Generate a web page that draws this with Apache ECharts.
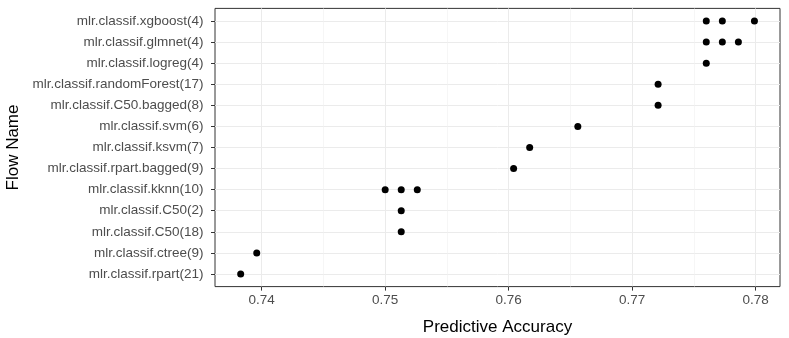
<!DOCTYPE html>
<html>
<head>
<meta charset="utf-8">
<script src="https://cdn.jsdelivr.net/npm/echarts@6/dist/echarts.min.js"></script>
<style>
html,body{margin:0;padding:0;background:#fff;}
#chart{width:789px;height:338px;}
</style>
</head>
<body>
<div id="chart"></div>
<script>
// Categories (top to bottom)
const flows = [
  'mlr.classif.xgboost(4)',
  'mlr.classif.glmnet(4)',
  'mlr.classif.logreg(4)',
  'mlr.classif.randomForest(17)',
  'mlr.classif.C50.bagged(8)',
  'mlr.classif.svm(6)',
  'mlr.classif.ksvm(7)',
  'mlr.classif.rpart.bagged(9)',
  'mlr.classif.kknn(10)',
  'mlr.classif.C50(2)',
  'mlr.classif.C50(18)',
  'mlr.classif.ctree(9)',
  'mlr.classif.rpart(21)'
];
// Predictive accuracy values per flow (same order)
const xgboost = [0.7760, 0.7773, 0.7799];
const glmnet = [0.7760, 0.7773, 0.7786];
const logreg = [0.7760];
const randomForest = [0.7721];
const c50bagged = [0.7721];
const svm = [0.7656];
const ksvm = [0.7617];
const rpartBagged = [0.7604];
const kknn = [0.7500, 0.7513, 0.7526];
const c50_2 = [0.7513];
const c50_18 = [0.7513];
const ctree = [0.7396];
const rpart = [0.7383];
const values = [xgboost, glmnet, logreg, randomForest, c50bagged, svm, ksvm, rpartBagged, kknn, c50_2, c50_18, ctree, rpart];

// Tick labels
const xTicks = [0.74, 0.75, 0.76, 0.77, 0.78];
const xMinorTicks = [0.745, 0.755, 0.765, 0.775];
const xTickLabels = ['0.74', '0.75', '0.76', '0.77', '0.78'];

const points = [];
values.forEach((arr, i) => arr.forEach(v => points.push([v, i])));
const yIdx = flows.map((_, i) => i);

const FONT = "'Liberation Sans', Arial, Helvetica, sans-serif";
const chart = echarts.init(document.getElementById('chart'), null, {renderer: 'canvas'});
chart.setOption({
  animation: false,
  backgroundColor: '#ffffff',
  grid: {
    left: 215, right: 9, top: 8.4, bottom: 51.4,
    outerBoundsMode: 'none',
    containLabel: false,
    show: true, borderColor: '#333333', borderWidth: 1, backgroundColor: '#ffffff'
  },
  xAxis: [{
    type: 'value',
    min: 0.73622, max: 0.78197,
    position: 'bottom',
    name: 'Predictive Accuracy',
    nameLocation: 'middle',
    nameGap: 32,
    nameTextStyle: {color: '#000000', fontSize: 17, fontFamily: FONT},
    axisLine: {show: false, onZero: false},
    axisTick: {show: true, length: 4, lineStyle: {color: '#333333', width: 1}, customValues: xTicks},
    axisLabel: {
      show: true, margin: 7, color: '#4D4D4D', fontSize: 13.5, fontFamily: FONT,
      customValues: xTicks,
      formatter: v => { const k = xTicks.findIndex(t => Math.abs(t - v) < 1e-9); return k >= 0 ? xTickLabels[k] : ''; }
    },
    splitLine: {show: true, lineStyle: {color: '#EBEBEB', width: 1}}
  }, {
    type: 'value',
    min: 0.73622, max: 0.78197,
    position: 'bottom',
    axisLine: {show: false, onZero: false},
    axisTick: {show: false, customValues: xMinorTicks},
    axisLabel: {show: false, customValues: xMinorTicks},
    splitLine: {show: true, lineStyle: {color: '#F0F0F0', width: 0.6}}
  }],
  yAxis: {
    type: 'value',
    inverse: true,
    min: -0.6, max: 12.6,
    position: 'left',
    name: 'Flow Name',
    nameLocation: 'middle',
    nameGap: 186,
    nameRotate: 90,
    nameTextStyle: {color: '#000000', fontSize: 17, fontFamily: FONT},
    axisLine: {show: false, onZero: false},
    axisTick: {show: true, length: 4, lineStyle: {color: '#333333', width: 1}, customValues: yIdx},
    axisLabel: {
      show: true, margin: 11.5, color: '#4D4D4D', fontSize: 13.5, fontFamily: FONT,
      customValues: yIdx,
      formatter: v => flows[Math.round(v)] || ''
    },
    splitLine: {show: true, lineStyle: {color: '#EBEBEB', width: 1}}
  },
  series: [{
    type: 'scatter',
    xAxisIndex: 0,
    symbol: 'circle',
    symbolSize: 7,
    itemStyle: {color: '#000000', opacity: 1},
    data: points,
    z: 5
  }]
});
</script>
</body>
</html>
